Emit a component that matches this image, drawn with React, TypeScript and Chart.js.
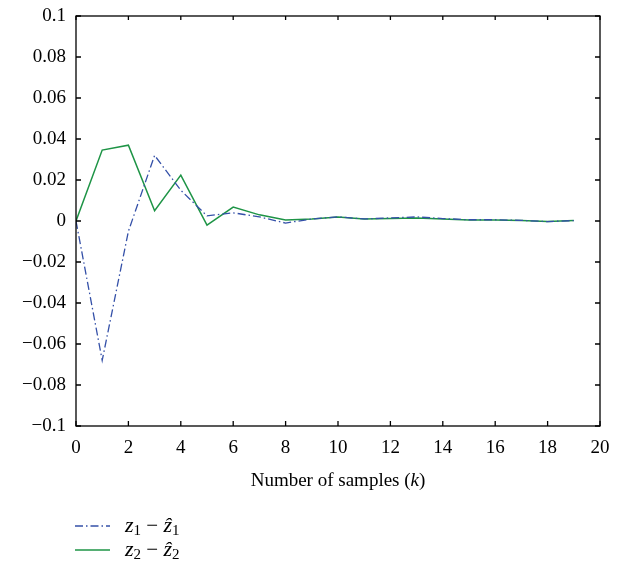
import React, { useEffect, useRef } from 'react';
import { Chart, registerables } from 'chart.js';
Chart.register(...registerables);

const samples = [0, 1, 2, 3, 4, 5, 6, 7, 8, 9, 10, 11, 12, 13, 14, 15, 16, 17, 18, 19];
const err1 = [0, -0.068, -0.005, 0.032, 0.015, 0.0025, 0.004, 0.002, -0.001, 0.001, 0.002, 0.001, 0.0015, 0.002, 0.0012, 0.0006, 0.0006, 0.0003, -0.0003, 0.0002];
const err2 = [0, 0.0346, 0.037, 0.005, 0.0224, -0.002, 0.0068, 0.003, 0.0005, 0.001, 0.002, 0.001, 0.0012, 0.0015, 0.001, 0.0005, 0.0005, 0.0003, -0.0003, 0.0002];
const xTicks = [0, 2, 4, 6, 8, 10, 12, 14, 16, 18, 20];
const yTicks = [-0.1, -0.08, -0.06, -0.04, -0.02, 0, 0.02, 0.04, 0.06, 0.08, 0.1];
const legendLabels = [
  { main: 'z', sub: '1' },
  { main: 'z', sub: '2' },
];

const FONT = '"Liberation Serif", "DejaVu Serif", serif';
const BLUE = '#3450a8';
const GREEN = '#1e9446';
const DASHDOT = [8, 3, 1.5, 3];

const framePlugin = {
  id: 'frameTicks',
  afterDraw(chart: any) {
    const { ctx, chartArea: a, scales } = chart;
    ctx.save();
    ctx.strokeStyle = '#000';
    ctx.lineWidth = 1.3;
    ctx.setLineDash([]);
    ctx.strokeRect(a.left, a.top, a.right - a.left, a.bottom - a.top);
    const len = 5;
    ctx.beginPath();
    xTicks.forEach((v) => {
      const x = scales.x.getPixelForValue(v);
      ctx.moveTo(x, a.bottom);
      ctx.lineTo(x, a.bottom - len);
      ctx.moveTo(x, a.top);
      ctx.lineTo(x, a.top + 4);
    });
    yTicks.forEach((v) => {
      const y = scales.y.getPixelForValue(v);
      ctx.moveTo(a.left, y);
      ctx.lineTo(a.left + len, y);
      ctx.moveTo(a.right, y);
      ctx.lineTo(a.right - len, y);
    });
    ctx.stroke();

    // x-axis title with italic k
    const cx = (a.left + a.right) / 2;
    const ty = 481;
    ctx.fillStyle = '#000';
    ctx.textBaseline = 'middle';
    const parts = [
      { t: 'Number of samples (', f: `19px ${FONT}` },
      { t: 'k', f: `italic 19px ${FONT}` },
      { t: ')', f: `19px ${FONT}` },
    ];
    let total = 0;
    parts.forEach((p) => { ctx.font = p.f; total += ctx.measureText(p.t).width; });
    let x = cx - total / 2;
    ctx.textAlign = 'left';
    parts.forEach((p) => { ctx.font = p.f; ctx.fillText(p.t, x, ty); x += ctx.measureText(p.t).width; });

    // legend
    const rows = [526, 550];
    chart.data.datasets.forEach((ds: any, i: number) => {
      const y = rows[i];
      ctx.strokeStyle = ds.borderColor;
      ctx.lineWidth = 1.3;
      ctx.setLineDash(ds.borderDash || []);
      ctx.beginPath();
      ctx.moveTo(75, y);
      ctx.lineTo(110, y);
      ctx.stroke();
      ctx.setLineDash([]);
      const lab = legendLabels[i];
      let lx = 125;
      const seg = [
        { t: lab.main, f: `italic 22px ${FONT}`, dy: 0 },
        { t: lab.sub, f: `15px ${FONT}`, dy: 5 },
        { t: ' \u2212 ', f: `21px ${FONT}`, dy: 0 },
        { t: '\u1E91', f: `italic 22px ${FONT}`, dy: 0 },
        { t: lab.sub, f: `15px ${FONT}`, dy: 5 },
      ];
      ctx.fillStyle = '#000';
      seg.forEach((s) => {
        ctx.font = s.f;
        ctx.fillText(s.t, lx, y + s.dy);
        lx += ctx.measureText(s.t).width;
      });
    });
    ctx.restore();
  },
};

const fmt = (v: number) => {
  const s = Number(v.toFixed(2)).toString();
  return s.replace('-', '\u2212');
};

export default function App() {
  const ref = useRef<HTMLCanvasElement>(null);
  useEffect(() => {
    document.body.style.margin = '0';
    const chart = new Chart(ref.current!, {
      type: 'line',
      data: {
        datasets: [
          {
            label: 'z1 - z1hat',
            data: samples.map((k, i) => ({ x: k, y: err1[i] })),
            borderColor: BLUE,
            borderWidth: 1.3,
            borderDash: DASHDOT,
            pointRadius: 0,
            fill: false,
            tension: 0,
          },
          {
            label: 'z2 - z2hat',
            data: samples.map((k, i) => ({ x: k, y: err2[i] })),
            borderColor: GREEN,
            borderWidth: 1.5,
            pointRadius: 0,
            fill: false,
            tension: 0,
          },
        ],
      },
      options: {
        animation: false,
        responsive: false,
        layout: { padding: { left: 0, right: 34, top: 16, bottom: 110 } },
        plugins: { legend: { display: false }, tooltip: { enabled: false } },
        scales: {
          x: {
            type: 'linear',
            min: 0,
            max: 20,
            afterBuildTicks: (s: any) => { s.ticks = xTicks.map((v) => ({ value: v })); },
            afterFit: (s: any) => { s.height = 30; s.paddingLeft = 0; s.paddingRight = 0; },
            grid: { display: false, drawTicks: false },
            border: { display: false },
            ticks: { color: '#000', font: { family: FONT, size: 19 }, padding: 11, maxRotation: 0, callback: (v: any) => fmt(Number(v)) },
          },
          y: {
            type: 'linear',
            min: -0.1,
            max: 0.1,
            afterBuildTicks: (s: any) => { s.ticks = yTicks.map((v) => ({ value: v })); },
            afterFit: (s: any) => { s.width = 76; s.paddingTop = 0; s.paddingBottom = 0; },
            grid: { display: false, drawTicks: false },
            border: { display: false },
            ticks: { color: '#000', font: { family: FONT, size: 19 }, padding: 10, callback: (v: any) => fmt(Number(v)) },
          },
        },
      },
      plugins: [framePlugin],
    });
    return () => chart.destroy();
  }, []);
  return <canvas ref={ref} width={634} height={566} style={{ display: 'block' }} />;
}
